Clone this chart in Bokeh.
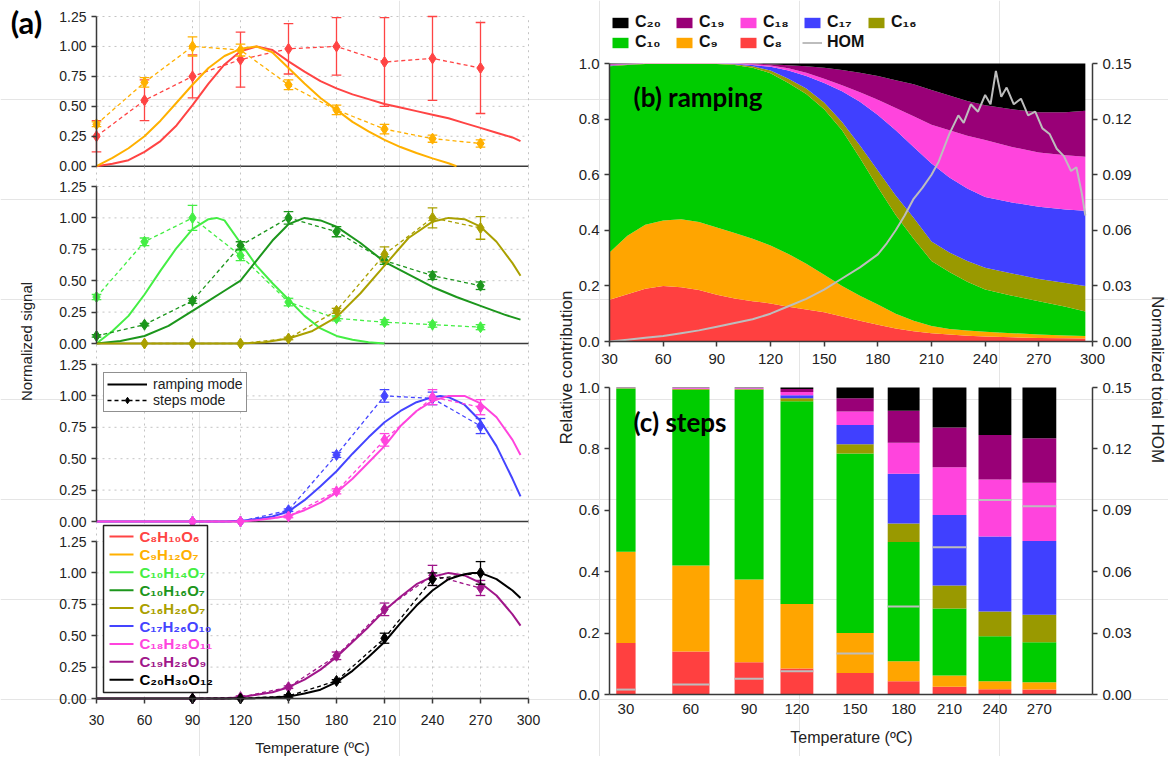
import math
from bokeh.plotting import figure
from bokeh.models import (Range1d, LinearAxis, FixedTicker, Legend, LegendItem, Label,
                          NumeralTickFormatter)
from bokeh.embed import file_html
from bokeh.resources import INLINE
from bokeh.core.properties import value

FONT = "Liberation Sans"
TXT = "#222222"
AXC = "#3a3a3a"
GRIDC = "#c4c4c4"

# ======================= DATA: panel (a) =======================
a_step_T = [30, 60, 90, 120, 150, 180, 210, 240, 270]
a_xticks = [30, 60, 90, 120, 150, 180, 210, 240, 270, 300]
a_yticks = [0.0, 0.25, 0.5, 0.75, 1.0, 1.25]

C8H10O6_rT = [30, 40, 50, 60, 70, 80, 90, 100, 110, 120, 130, 140, 150, 160, 170, 180, 190, 200, 210, 220, 230, 240, 250, 260, 270, 280, 290, 295]
C8H10O6_r = [0, 0.02, 0.05, 0.12, 0.21, 0.34, 0.51, 0.69, 0.85, 0.96, 1.0, 0.97, 0.875, 0.79, 0.71, 0.65, 0.6, 0.56, 0.52, 0.49, 0.46, 0.43, 0.40, 0.36, 0.32, 0.28, 0.24, 0.21]
C8H10O6_s = [0.25, 0.55, 0.75, 0.89, 0.98, 1.00, 0.87, 0.90, 0.82]
C8H10O6_e = [0.13, 0.17, 0.18, 0.23, 0.21, 0.24, 0.37, 0.35, 0.38]

C9H12O7_rT = [30, 40, 50, 60, 70, 80, 90, 100, 110, 120, 130, 140, 150, 160, 170, 180, 190, 200, 210, 220, 230, 240, 250, 255]
C9H12O7_r = [0, 0.07, 0.15, 0.25, 0.38, 0.53, 0.68, 0.82, 0.92, 0.98, 1.0, 0.95, 0.82, 0.69, 0.57, 0.47, 0.37, 0.29, 0.22, 0.16, 0.11, 0.065, 0.025, 0.0]
C9H12O7_s = [0.35, 0.70, 1.00, 0.97, 0.68, 0.47, 0.31, 0.23, 0.19]
C9H12O7_e = [0.02, 0.04, 0.08, 0.05, 0.04, 0.04, 0.04, 0.03, 0.03]

C10H14O7_rT = [30, 40, 50, 60, 70, 80, 90, 100, 105, 110, 120, 130, 140, 150, 160, 170, 180, 190, 200, 210]
C10H14O7_r = [0, 0.1, 0.22, 0.39, 0.58, 0.76, 0.91, 0.99, 1.0, 0.98, 0.8, 0.62, 0.48, 0.35, 0.22, 0.12, 0.06, 0.03, 0.01, 0.0]
C10H14O7_s = [0.37, 0.81, 1.00, 0.70, 0.33, 0.20, 0.17, 0.15, 0.13]
C10H14O7_e = [0.02, 0.03, 0.10, 0.04, 0.03, 0.02, 0.02, 0.02, 0.02]

C10H16O7_rT = [30, 45, 60, 75, 90, 100, 110, 120, 130, 140, 150, 160, 170, 180, 195, 210, 225, 240, 255, 270, 285, 295]
C10H16O7_r = [0, 0.02, 0.06, 0.14, 0.26, 0.34, 0.42, 0.5, 0.66, 0.82, 0.95, 1.0, 0.98, 0.93, 0.8, 0.65, 0.55, 0.45, 0.37, 0.3, 0.23, 0.19]
C10H16O7_s = [0.06, 0.15, 0.34, 0.78, 1.00, 0.89, 0.66, 0.54, 0.46]
C10H16O7_e = [0.01, 0.01, 0.02, 0.03, 0.05, 0.04, 0.03, 0.03, 0.03]

C16H26O7_rT = [30, 60, 90, 120, 135, 150, 165, 180, 195, 210, 225, 240, 250, 260, 270, 280, 290, 295]
C16H26O7_r = [0, 0, 0, 0, 0.01, 0.04, 0.1, 0.21, 0.4, 0.62, 0.84, 0.97, 1.0, 0.99, 0.93, 0.81, 0.64, 0.54]
C16H26O7_s = [0, 0, 0, 0.04, 0.26, 0.71, 1.00, 0.92]
C16H26O7_e = [0, 0, 0, 0.01, 0.02, 0.06, 0.08, 0.09]

C17H26O10_rT = [30, 60, 90, 110, 120, 130, 140, 150, 160, 170, 180, 190, 200, 210, 220, 230, 240, 245, 250, 260, 270, 280, 290, 295]
C17H26O10_r = [0, 0, 0, 0, 0.005, 0.02, 0.04, 0.08, 0.17, 0.28, 0.4, 0.54, 0.67, 0.79, 0.88, 0.95, 0.99, 1.0, 0.99, 0.93, 0.8, 0.6, 0.34, 0.2]
C17H26O10_s = [0, 0, 0.09, 0.53, 1.00, 0.98, 0.76]
C17H26O10_e = [0, 0, 0.01, 0.02, 0.05, 0.05, 0.06]

C18H28O11_rT = [30, 60, 90, 120, 130, 140, 150, 160, 170, 180, 190, 200, 210, 220, 230, 240, 250, 260, 270, 280, 290, 295]
C18H28O11_r = [0, 0, 0, 0, 0.01, 0.025, 0.045, 0.09, 0.15, 0.23, 0.34, 0.47, 0.6, 0.76, 0.88, 0.96, 1.0, 1.0, 0.94, 0.83, 0.65, 0.53]
C18H28O11_s = [0, 0, 0.04, 0.24, 0.65, 0.99, 0.91]
C18H28O11_e = [0, 0, 0.01, 0.02, 0.05, 0.06, 0.06]

C19H28O9_rT = [30, 60, 90, 110, 120, 130, 140, 150, 160, 170, 180, 190, 200, 210, 220, 230, 240, 250, 260, 270, 280, 290, 295]
C19H28O9_r = [0, 0, 0, 0, 0.01, 0.03, 0.05, 0.09, 0.15, 0.23, 0.33, 0.45, 0.57, 0.7, 0.81, 0.91, 0.97, 1.0, 0.98, 0.92, 0.82, 0.67, 0.58]
C19H28O9_s = [0, 0.01, 0.09, 0.34, 0.71, 0.98, 0.88]
C19H28O9_e = [0, 0.01, 0.01, 0.03, 0.05, 0.08, 0.06]

C20H30O12_rT = [30, 60, 90, 120, 130, 140, 150, 160, 170, 180, 190, 200, 210, 220, 230, 240, 250, 260, 265, 270, 280, 290, 295]
C20H30O12_r = [0, 0, 0, 0, 0.003, 0.007, 0.015, 0.04, 0.07, 0.13, 0.22, 0.33, 0.45, 0.6, 0.74, 0.86, 0.95, 0.99, 1.0, 1.0, 0.95, 0.86, 0.8]
C20H30O12_s = [0, 0, 0.02, 0.14, 0.48, 0.95, 1.00]
C20H30O12_e = [0, 0, 0.01, 0.01, 0.04, 0.05, 0.09]

compound_labels = ["C₈H₁₀O₆", "C₉H₁₂O₇", "C₁₀H₁₄O₇", "C₁₀H₁₆O₇", "C₁₆H₂₆O₇",
                   "C₁₇H₂₆O₁₀", "C₁₈H₂₈O₁₁", "C₁₉H₂₈O₉", "C₂₀H₃₀O₁₂"]
compound_colors = ["#ff4444", "#ffb000", "#44ee44", "#1c961c", "#aaa000",
                   "#4444ff", "#ff44dd", "#a0168a", "#000000"]

# ======================= DATA: panel (b) ramping =======================
b_T = [30, 40, 50, 60, 70, 80, 90, 100, 110, 120, 130, 140, 150, 160, 170, 180, 190, 200, 210, 220, 230, 240, 255, 270, 285, 296]
# cumulative upper edge of each carbon class (relative contribution)
b_top_C8 = [0.15, 0.17, 0.19, 0.20, 0.195, 0.185, 0.168, 0.155, 0.145, 0.137, 0.125, 0.115, 0.105, 0.09, 0.075, 0.06, 0.047, 0.037, 0.03, 0.025, 0.021, 0.018, 0.015, 0.013, 0.012, 0.011]
b_top_C9 = [0.32, 0.38, 0.42, 0.435, 0.44, 0.43, 0.41, 0.39, 0.37, 0.345, 0.315, 0.28, 0.24, 0.20, 0.165, 0.133, 0.10, 0.075, 0.056, 0.045, 0.04, 0.035, 0.03, 0.025, 0.022, 0.02]
b_top_C10 = [0.99, 0.995, 0.998, 0.998, 0.998, 0.998, 0.998, 0.995, 0.985, 0.965, 0.93, 0.89, 0.835, 0.76, 0.66, 0.555, 0.455, 0.37, 0.29, 0.25, 0.215, 0.187, 0.165, 0.145, 0.125, 0.108]
b_top_C16 = [0.992, 0.996, 0.999, 0.999, 0.999, 0.999, 0.999, 0.997, 0.99, 0.975, 0.945, 0.91, 0.86, 0.79, 0.705, 0.615, 0.525, 0.445, 0.36, 0.32, 0.29, 0.265, 0.245, 0.225, 0.21, 0.2]
b_top_C17 = [0.994, 0.997, 0.999, 0.999, 0.999, 0.999, 0.999, 0.999, 0.995, 0.988, 0.975, 0.955, 0.93, 0.90, 0.862, 0.815, 0.76, 0.70, 0.64, 0.59, 0.55, 0.52, 0.50, 0.485, 0.475, 0.47]
b_top_C18 = [0.996, 0.998, 1.0, 1.0, 1.0, 1.0, 1.0, 1.0, 0.997, 0.993, 0.983, 0.967, 0.945, 0.922, 0.897, 0.87, 0.84, 0.81, 0.78, 0.76, 0.74, 0.725, 0.70, 0.68, 0.67, 0.665]
b_top_C19 = [0.998, 0.999, 1.0, 1.0, 1.0, 1.0, 1.0, 1.0, 1.0, 0.997, 0.994, 0.99, 0.985, 0.977, 0.967, 0.955, 0.94, 0.925, 0.905, 0.885, 0.865, 0.85, 0.835, 0.825, 0.825, 0.83]
b_top_C20 = [1.0] * len(b_T)

b_hom_T = [30, 40, 50, 60, 70, 80, 90, 100, 110, 120, 130, 140, 150, 160, 170, 180, 185, 190, 195, 200,
           205, 210, 214, 220, 225, 228, 232, 236, 240, 243, 246, 249, 252, 256, 260, 264, 268, 272, 276, 280,
           284, 288, 291, 294, 296]
b_hom = [0.0, 0.001, 0.002, 0.003, 0.0045, 0.006, 0.008, 0.01, 0.012, 0.015, 0.019, 0.023, 0.028, 0.034, 0.04, 0.047, 0.053, 0.06, 0.068, 0.077,
         0.083, 0.09, 0.097, 0.112, 0.122, 0.118, 0.128, 0.124, 0.133, 0.128, 0.146, 0.132, 0.137, 0.128, 0.131, 0.122, 0.124, 0.115, 0.112, 0.104,
         0.1, 0.092, 0.094, 0.08, 0.068]

# ======================= DATA: panel (c) steps =======================
c_temp = [30, 60, 90, 120, 150, 180, 210, 240, 270]
c_start = [1.4, 13.0, 25.9, 35.4, 47.0, 57.6, 66.9, 76.4, 85.5]   # experiment time (a.u.)
c_end = [5.4, 20.7, 31.9, 42.2, 54.7, 64.2, 73.9, 83.2, 92.5]
c_top_C8 = [0.168, 0.14, 0.105, 0.085, 0.07, 0.043, 0.025, 0.017, 0.016]
c_top_C9 = [0.465, 0.42, 0.375, 0.295, 0.20, 0.108, 0.062, 0.043, 0.04]
c_top_C10 = [0.997, 0.993, 0.993, 0.955, 0.785, 0.497, 0.28, 0.19, 0.17]
c_top_C16 = [0.998, 0.995, 0.995, 0.965, 0.815, 0.557, 0.355, 0.27, 0.26]
c_top_C17 = [0.998, 0.996, 0.996, 0.975, 0.878, 0.719, 0.585, 0.515, 0.50]
c_top_C18 = [0.999, 0.998, 0.998, 0.985, 0.922, 0.82, 0.74, 0.70, 0.69]
c_top_C19 = [0.999, 0.999, 0.999, 0.995, 0.965, 0.924, 0.87, 0.845, 0.835]
c_top_C20 = [1.0] * len(c_temp)
c_hom = [0.0024, 0.0049, 0.0077, 0.0114, 0.020, 0.043, 0.072, 0.095, 0.092]

class_names = ["C₈", "C₉", "C₁₀", "C₁₆", "C₁₇", "C₁₈", "C₁₉", "C₂₀"]
class_colors = ["#ff4040", "#ffa500", "#00cc00", "#999900", "#4040ff", "#ff44dd", "#990077", "#000000"]
HOM_COLOR = "#bdbdbd"

b_tops = [b_top_C8, b_top_C9, b_top_C10, b_top_C16, b_top_C17, b_top_C18, b_top_C19, b_top_C20]
c_tops = [c_top_C8, c_top_C9, c_top_C10, c_top_C16, c_top_C17, c_top_C18, c_top_C19, c_top_C20]

# ======================= LAYOUT (page pixels) =======================
W, H = 1168, 756
PX0, PY0 = 1, 1          # observed page position of the canvas' top-left corner


def xr(v0, p0, v1, p1):
    k = (v1 - v0) / (p1 - p0)
    return Range1d(start=v0 + (PX0 - p0) * k, end=v0 + (PX0 + W - p0) * k)


def yr(v0, p0, v1, p1):
    k = (v1 - v0) / (p1 - p0)
    return Range1d(start=v0 + (PY0 + H - p0) * k, end=v0 + (PY0 - p0) * k)


p = figure(width=W, height=H, x_range=xr(0, 0, 1, 1), y_range=yr(0, 0, 1, 1),
           x_axis_location=None, y_axis_location=None, toolbar_location=None, title=None,
           output_backend="svg", min_border=0, min_border_left=0, min_border_right=0,
           min_border_top=0, min_border_bottom=0, outline_line_color=None,
           background_fill_color="white", border_fill_color="white")

SUB_PX = [(166.7, 17), (344, 187), (522, 365), (699, 542)]   # page y of 0 and 1.25 per subplot
p.extra_x_ranges = {"ta": xr(30, 97, 300, 529), "tb": xr(30, 610, 300, 1093),
                    "time": xr(0, 610, 100, 1093)}
yranges = {f"s{k}": yr(0, z, 1.25, t) for k, (z, t) in enumerate(SUB_PX)}
yranges.update({"b": yr(0, 342, 1, 64), "hom_b": yr(0, 342, 0.15, 64),
                "c": yr(0, 695, 1, 388), "hom_c": yr(0, 695, 0.15, 388)})
p.extra_y_ranges = yranges


def style_axis(ax, size="14px"):
    ax.axis_line_color = AXC
    ax.axis_line_width = 1.5
    ax.major_tick_line_color = AXC
    ax.major_tick_line_width = 1.5
    ax.major_tick_out = 5
    ax.major_tick_in = 0
    ax.minor_tick_line_color = None
    ax.major_label_text_font = FONT
    ax.major_label_text_font_size = size
    ax.major_label_text_color = TXT


def page_label(x, y, text, size, angle=0.0, font=FONT, style="normal", align="center", color=TXT):
    p.add_layout(Label(x=x, y=y, text=text, text_font=font, text_font_size=size,
                       text_font_style=style, text_align=align, text_baseline="middle",
                       angle=angle, text_color=color))


# ---------------- panel (a) ----------------
for k in range(4):
    rn = f"s{k}"
    p.multi_line(xs=[[30, 300]] * 5, ys=[[v, v] for v in a_yticks[1:]], x_range_name="ta",
                 y_range_name=rn, line_color=GRIDC, line_dash="dotted", line_width=1)
    p.multi_line(xs=[[t, t] for t in a_xticks], ys=[[0, 1.25]] * len(a_xticks), x_range_name="ta",
                 y_range_name=rn, line_color=GRIDC, line_dash="dotted", line_width=1)
    if k > 0:
        # vertical grid continues through the gap between subplots
        p.multi_line(xs=[[t, t] for t in a_xticks], ys=[[1.25, 1.25 + 0.18]] * len(a_xticks),
                     x_range_name="ta", y_range_name=rn, line_color=GRIDC, line_dash="dotted",
                     line_width=1)
    yax = LinearAxis(x_range_name="ta", y_range_name=rn, fixed_location=30, bounds=(0, 1.25),
                     ticker=FixedTicker(ticks=a_yticks),
                     formatter=NumeralTickFormatter(format="0.00"))
    style_axis(yax, "14px")
    p.add_layout(yax, "left")
    if k < 3:
        p.segment(x0=[30], x1=[300], y0=[0], y1=[0], x_range_name="ta", y_range_name=rn,
                  line_color=AXC, line_width=1.5)

xax = LinearAxis(x_range_name="ta", y_range_name="s3", fixed_location=0, bounds=(30, 300),
                 ticker=FixedTicker(ticks=a_xticks))
style_axis(xax, "14px")
xax.major_label_standoff = 11
p.add_layout(xax, "below")

series = [
    (0, 0, C8H10O6_rT, C8H10O6_r, a_step_T, C8H10O6_s, C8H10O6_e),
    (0, 1, C9H12O7_rT, C9H12O7_r, a_step_T, C9H12O7_s, C9H12O7_e),
    (1, 2, C10H14O7_rT, C10H14O7_r, a_step_T, C10H14O7_s, C10H14O7_e),
    (1, 3, C10H16O7_rT, C10H16O7_r, a_step_T, C10H16O7_s, C10H16O7_e),
    (1, 4, C16H26O7_rT, C16H26O7_r, a_step_T[1:], C16H26O7_s, C16H26O7_e),
    (2, 5, C17H26O10_rT, C17H26O10_r, a_step_T[2:], C17H26O10_s, C17H26O10_e),
    (2, 6, C18H28O11_rT, C18H28O11_r, a_step_T[2:], C18H28O11_s, C18H28O11_e),
    (3, 7, C19H28O9_rT, C19H28O9_r, a_step_T[2:], C19H28O9_s, C19H28O9_e),
    (3, 8, C20H30O12_rT, C20H30O12_r, a_step_T[2:], C20H30O12_s, C20H30O12_e),
]
CAP = 3.0
for panel, ci, rT, r, sT, s, e in series:
    rn = f"s{panel}"
    col = compound_colors[ci]
    kw = dict(x_range_name="ta", y_range_name=rn)
    p.line(rT, r, line_color=col, line_width=2, **kw)
    p.line(sT, s, line_color=col, line_width=1.3, line_dash="4 3", **kw)
    eT = [t for t, ee in zip(sT, e) if ee > 0]
    lo = [v - ee for v, ee in zip(s, e) if ee > 0]
    hi = [v + ee for v, ee in zip(s, e) if ee > 0]
    p.segment(x0=eT, y0=lo, x1=eT, y1=hi, line_color=col, line_width=1.3, **kw)
    p.segment(x0=[t - CAP for t in eT], y0=lo, x1=[t + CAP for t in eT], y1=lo,
              line_color=col, line_width=1.3, **kw)
    p.segment(x0=[t - CAP for t in eT], y0=hi, x1=[t + CAP for t in eT], y1=hi,
              line_color=col, line_width=1.3, **kw)
    p.scatter(sT, s, marker="diamond", size=11, fill_color=col, line_color=col, **kw)

# mode legend (subplot 3); Legend location = bottom-left corner, px from canvas bottom-left
r_solid = p.line([math.nan], [math.nan], line_color="black", line_width=2)
r_dash = p.line([math.nan], [math.nan], line_color="black", line_width=1.3, line_dash="4 3")
r_diam = p.scatter([math.nan], [math.nan], marker="diamond", size=10, fill_color="black",
                   line_color="black")
mode_leg = Legend(items=[LegendItem(label="ramping mode", renderers=[r_solid]),
                         LegendItem(label="steps mode", renderers=[r_dash, r_diam])],
                  location=(104 - PX0, PY0 + H - 413), margin=0, padding=3, spacing=0,
                  glyph_width=40, glyph_height=16, label_height=16, label_standoff=6,
                  label_text_font=FONT, label_text_font_size="14px", label_text_color=TXT,
                  border_line_color="#222222", border_line_width=1.5,
                  background_fill_color="white", background_fill_alpha=1.0)
p.add_layout(mode_leg)

# compound legend (subplot 4), coloured labels, drawn in page pixels
p.quad(left=[104], right=[208], bottom=[693], top=[526], fill_color="white",
       line_color="#222222", line_width=1.5)
row_y = [537 + 17.9 * i for i in range(len(compound_labels))]
p.segment(x0=[110] * 9, x1=[134] * 9, y0=row_y, y1=row_y, line_color=compound_colors, line_width=2)
p.text(x=[140] * 9, y=row_y, text=compound_labels, text_color=compound_colors,
       text_font=value(FONT), text_font_size="15px", text_font_style="bold",
       text_baseline="middle", text_align="left")

page_label(27, 22, "(a)", "31px", font="Lato", style="bold", color="black")
page_label(27, 342, "Normalized signal", "15px", angle=math.pi / 2)
page_label(313, 748, "Temperature (ºC)", "15px")

# ---------------- panel (b) ----------------
area_r = []
prev = [0.0] * len(b_T)
for top, col in zip(b_tops, class_colors):
    area_r.append(p.varea(x=b_T, y1=prev, y2=top, fill_color=col, x_range_name="tb",
                          y_range_name="b"))
    prev = top
hom_r = p.line(b_hom_T, b_hom, x_range_name="tb", y_range_name="hom_b", line_color=HOM_COLOR,
               line_width=2)

# ---------------- panel (c) ----------------
prev = [0.0] * len(c_temp)
for top, col in zip(c_tops, class_colors):
    p.quad(left=c_start, right=c_end, bottom=prev, top=top, x_range_name="time",
           y_range_name="c", fill_color=col, line_color=None)
    prev = top
p.segment(x0=c_start, x1=c_end, y0=c_hom, y1=c_hom, x_range_name="time",
          y_range_name="hom_c", line_color=HOM_COLOR, line_width=2)

# axes (b)/(c)
bx = LinearAxis(x_range_name="tb", y_range_name="b", fixed_location=0, bounds=(30, 300),
                ticker=FixedTicker(ticks=a_xticks))
style_axis(bx, "15px")
bx.major_label_standoff = 7
p.add_layout(bx, "below")

c_centers = [(a + b) / 2 for a, b in zip(c_start, c_end)]
cx = LinearAxis(x_range_name="time", y_range_name="c", fixed_location=0, bounds=(0, 100),
                ticker=FixedTicker(ticks=c_centers),
                major_label_overrides={c: str(t) for c, t in zip(c_centers, c_temp)})
style_axis(cx, "15px")
cx.major_tick_line_color = None
cx.major_tick_out = 0
cx.major_label_standoff = 9
p.add_layout(cx, "below")

for rn in ("b", "c"):
    a = LinearAxis(x_range_name="tb", y_range_name=rn, fixed_location=30, bounds=(0, 1),
                   ticker=FixedTicker(ticks=[0, 0.2, 0.4, 0.6, 0.8, 1.0]),
                   formatter=NumeralTickFormatter(format="0.0"))
    style_axis(a, "15px")
    p.add_layout(a, "left")
for rn in ("hom_b", "hom_c"):
    a = LinearAxis(x_range_name="tb", y_range_name=rn, fixed_location=300, bounds=(0, 0.15),
                   ticker=FixedTicker(ticks=[0, 0.03, 0.06, 0.09, 0.12, 0.15]),
                   formatter=NumeralTickFormatter(format="0.00"))
    style_axis(a, "15px")
    p.add_layout(a, "right")

page_label(567, 368, "Relative contribution", "17px", angle=math.pi / 2)
page_label(1158, 380, "Normalized total HOM", "17px", angle=-math.pi / 2)
page_label(852, 738, "Temperature (ºC)", "16px")
page_label(634, 97, "(b) ramping", "26px", font="Lato", style="bold", align="left", color="black")
page_label(634, 422, "(c) steps", "26px", font="Lato", style="bold", align="left", color="black")


def make_row(items, bottom_page):
    return Legend(items=items, location=(611 - PX0, PY0 + H - bottom_page),
                  orientation="horizontal", margin=0, padding=0, spacing=3,
                  glyph_width=20, glyph_height=13, label_width=36, label_height=20,
                  label_standoff=5, label_text_font=FONT, label_text_font_size="16px",
                  label_text_font_style="bold", label_text_color="#111111",
                  border_line_color=None, background_fill_alpha=0)


row1 = [LegendItem(label=class_names[i], renderers=[area_r[i]]) for i in (7, 6, 5, 4, 3)]
row2 = [LegendItem(label=class_names[i], renderers=[area_r[i]]) for i in (2, 1, 0)]
row2.append(LegendItem(label="HOM", renderers=[hom_r]))
p.add_layout(make_row(row1, 33))
p.add_layout(make_row(row2, 53))

open("out.html", "w").write(file_html(p, INLINE))
